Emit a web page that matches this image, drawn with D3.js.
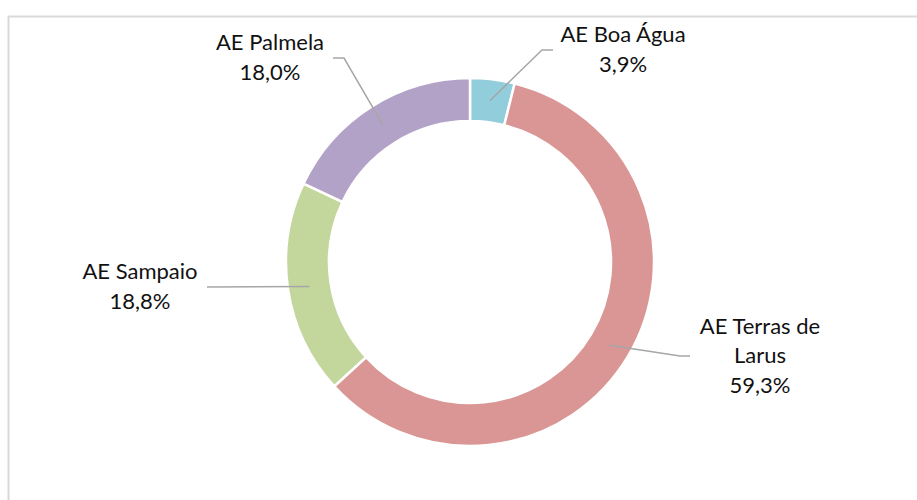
<!DOCTYPE html>
<html>
<head>
<meta charset="utf-8">
<script src="https://cdn.jsdelivr.net/npm/d3@7"></script>
<style>
  html, body { margin: 0; padding: 0; background: #fff; }
  svg { display: block; }
</style>
</head>
<body>
<div id="chart"></div>
<script>
// slices, clockwise from 12 o'clock
const categories = ['AE Boa Água', 'AE Terras de Larus', 'AE Sampaio', 'AE Palmela'];
const labelLines = [['AE Boa Água'], ['AE Terras de', 'Larus'], ['AE Sampaio'], ['AE Palmela']];
const values = [3.9, 59.3, 18.8, 18.0];
const colors = ['#92cddc', '#d99694', '#c3d69b', '#b3a2c7'];

// where each data label sits (block centre) and where its leader stops
const labelPos = [
    { x: 623, y: 50, end: 553, elbow: 542 },
    { x: 760, y: 356, end: 690, elbow: 680 },
    { x: 140, y: 287, end: 207, elbow: 207 },
    { x: 270, y: 58, end: 333, elbow: 344 }
];

const width = 917, height = 500;
const cx = 470, cy = 262;
const outerR = 184, innerR = 141;
const LINE_H = 29.5;

const svg = d3.select('#chart')
    .append('svg')
    .attr('width', width)
    .attr('height', height);

// chart area frame (right/bottom fall outside the window)
svg.append('rect')
    .attr('x', 8.5).attr('y', 16.5)
    .attr('width', 930).attr('height', 520)
    .attr('fill', 'none')
    .attr('stroke', '#d9d9d9')
    .attr('stroke-width', 2);

const pie = d3.pie().sort(null).value(d => d)(values);
const arc = d3.arc().innerRadius(innerR).outerRadius(outerR);
const midArc = d3.arc().innerRadius((innerR + outerR) / 2).outerRadius((innerR + outerR) / 2);

const g = svg.append('g').attr('transform', `translate(${cx},${cy})`);

g.selectAll('path.slice').data(pie).enter()
    .append('path')
    .attr('class', 'slice')
    .attr('d', arc)
    .attr('fill', (d, i) => colors[i])
    .attr('stroke', '#fff')
    .attr('stroke-width', 2.5);

// leader lines
g.selectAll('polyline').data(pie).enter()
    .append('polyline')
    .attr('points', (d, i) => {
        const c = midArc.centroid(d);
        const p = labelPos[i];
        return [c, [p.elbow - cx, p.y - cy], [p.end - cx, p.y - cy]].map(q => q.join(',')).join(' ');
    })
    .attr('fill', 'none')
    .attr('stroke', '#a6a6a6')
    .attr('stroke-width', 1.5);

// data labels
const fmt = v => d3.format('.1f')(v).replace('.', ',') + '%';
const labels = svg.selectAll('text.lbl').data(pie).enter()
    .append('text')
    .attr('class', 'lbl')
    .attr('text-anchor', 'middle')
    .attr('font-family', 'Lato, "Open Sans", sans-serif')
    .attr('font-size', 22)
    .attr('fill', '#111');

labels.each(function (d, i) {
    const lines = labelLines[i].concat([fmt(values[i])]);
    const p = labelPos[i];
    // baseline of first line so that the block is centred on p.y
    const first = p.y - (lines.length - 1) * LINE_H / 2 + 7;
    d3.select(this).selectAll('tspan').data(lines).enter()
        .append('tspan')
        .attr('x', p.x)
        .attr('y', (t, k) => first + k * LINE_H)
        .text(t => t);
});
</script>
</body>
</html>
